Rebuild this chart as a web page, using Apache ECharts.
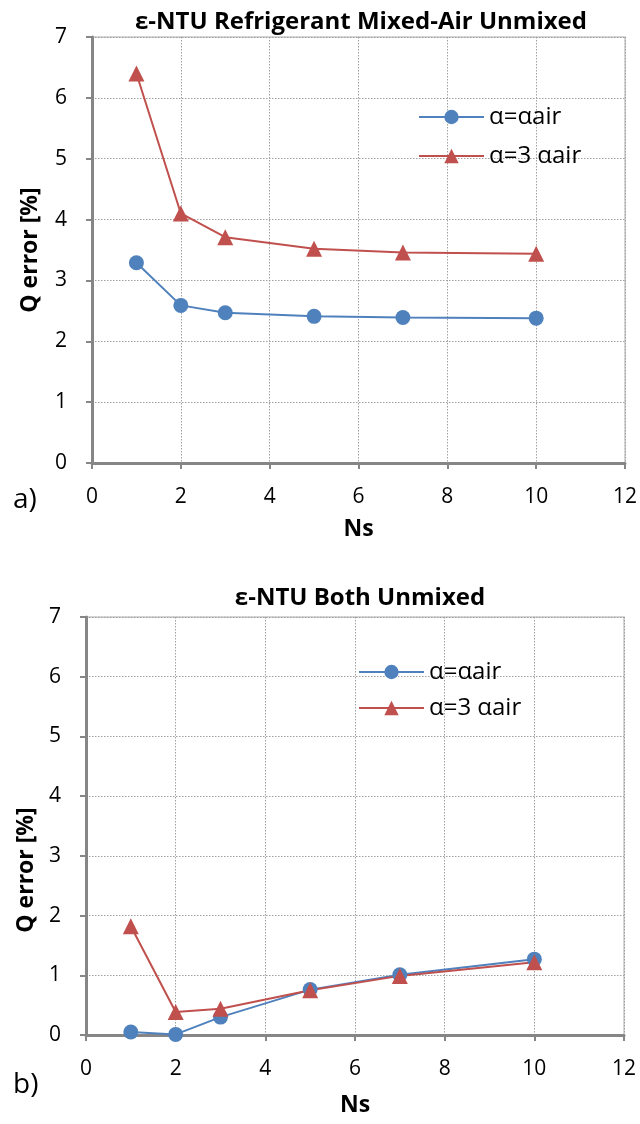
<!DOCTYPE html>
<html><head><meta charset="utf-8">
<script src="https://cdn.jsdelivr.net/npm/echarts@6/dist/echarts.min.js"></script>
<style>html,body{margin:0;padding:0;background:#fff}#c{width:640px;height:1124px}</style>
</head><body><div id="c"></div>
<script>
const ns = [1, 2, 3, 5, 7, 10];
const alphaAirA = [3.29, 2.59, 2.47, 2.41, 2.39, 2.38];
const alpha3AirA = [6.40, 4.10, 3.71, 3.52, 3.46, 3.44];
const alphaAirB = [0.05, 0.01, 0.30, 0.76, 1.01, 1.27];
const alpha3AirB = [1.82, 0.385, 0.44, 0.75, 0.99, 1.22];
const seriesNames = ['α=αair', 'α=3 αair'];
const titles = ['ε-NTU Refrigerant Mixed-Air Unmixed', 'ε-NTU Both Unmixed'];
const panelLabels = ['a)', 'b)'];
const xName = 'Ns';
const yName = 'Q error [%]';

const FONT = 'Open Sans';
const BLUE = '#4F81BD', RED = '#C0504D';

function pair(xs, ys) { return xs.map((x, i) => [x, ys[i]]); }

const grids = [
  { left: 92, top: 37, width: 536, height: 426 },
  { left: 86, top: 617, width: 538, height: 418 }
];

function xAxis(i, gap) {
  return {
    gridIndex: i, type: 'value', min: 0, max: 12, interval: 2,
    name: xName, nameLocation: 'middle', nameGap: gap,
    nameTextStyle: { fontFamily: FONT, fontWeight: 'bold', fontSize: 23, color: '#000' },
    axisLine: { show: true, lineStyle: { color: '#868686', width: 3 } },
    axisTick: { show: true, inside: false, length: 6, lineStyle: { color: '#868686', width: 2 } },
    axisLabel: { fontFamily: FONT, fontSize: 21, color: '#000', margin: 24 },
    splitLine: { show: true, lineStyle: { color: '#a0a0a0', type: [1.5, 1.5], width: 1 } }
  };
}
function yAxis(i, gap, pad) {
  return {
    gridIndex: i, type: 'value', min: 0, max: 7, interval: 1,
    name: yName, nameLocation: 'middle', nameGap: gap, nameRotate: 90,
    nameTextStyle: { fontFamily: FONT, fontWeight: 'bold', fontSize: 23, color: '#000', padding: pad },
    axisLine: { show: true, lineStyle: { color: '#868686', width: 3 } },
    axisTick: { show: true, inside: false, length: 6, lineStyle: { color: '#868686', width: 2 } },
    axisLabel: { fontFamily: FONT, fontSize: 21, color: '#000', margin: 25 },
    splitLine: { show: true, lineStyle: { color: '#a0a0a0', type: [1.5, 1.5], width: 1 } }
  };
}

function mkSeries(name, data, gi, color, symbol, size) {
  return {
    name, type: 'line', xAxisIndex: gi, yAxisIndex: gi, data,
    symbol, symbolSize: size, showSymbol: true,
    lineStyle: { color, width: 2 }, itemStyle: { color },
    z: 3, animation: false
  };
}

const legendText = { fontFamily: FONT, fontSize: 24, color: '#000' };

const option = {
  animation: false,
  backgroundColor: '#fff',
  title: [
    { text: titles[0], left: 356, top: 5, textAlign: 'center',
      textStyle: { fontFamily: FONT, fontWeight: 'bold', fontSize: 24, color: '#000' } },
    { text: titles[1], left: 355, top: 581, textAlign: 'center',
      textStyle: { fontFamily: FONT, fontWeight: 'bold', fontSize: 24, color: '#000' } }
  ],
  grid: grids.map(g => Object.assign({ show: true, borderColor: '#c8c8c8', borderWidth: 1.5, backgroundColor: 'transparent' }, g)),
  xAxis: [xAxis(0, 55), xAxis(1, 59)],
  yAxis: [yAxis(0, 50, 0), yAxis(1, 46, [0, 88, 0, 0])],
  legend: [
    { data: seriesNames, orient: 'vertical', left: 413, top: 100, itemWidth: 65, itemHeight: 18, itemGap: 15,
      textStyle: legendText, selectedMode: false },
    { data: seriesNames, orient: 'vertical', left: 353, top: 655, itemWidth: 65, itemHeight: 18, itemGap: 12,
      textStyle: legendText, selectedMode: false }
  ],
  graphic: [
    { type: 'text', left: 13, top: 486, style: { text: panelLabels[0], font: '28px "' + FONT + '"', fill: '#000' } },
    { type: 'text', left: 13, top: 1071, style: { text: panelLabels[1], font: '28px "' + FONT + '"', fill: '#000' } }
  ],
  series: [
    mkSeries(seriesNames[0], pair(ns, alphaAirA), 0, BLUE, 'circle', 15),
    mkSeries(seriesNames[1], pair(ns, alpha3AirA), 0, RED, 'triangle', 16),
    mkSeries(seriesNames[0], pair(ns, alphaAirB), 1, BLUE, 'circle', 15),
    mkSeries(seriesNames[1], pair(ns, alpha3AirB), 1, RED, 'triangle', 16)
  ]
};
const chart = echarts.init(document.getElementById('c'), null, { renderer: 'canvas' });
chart.setOption(option);
</script>
</body></html>
